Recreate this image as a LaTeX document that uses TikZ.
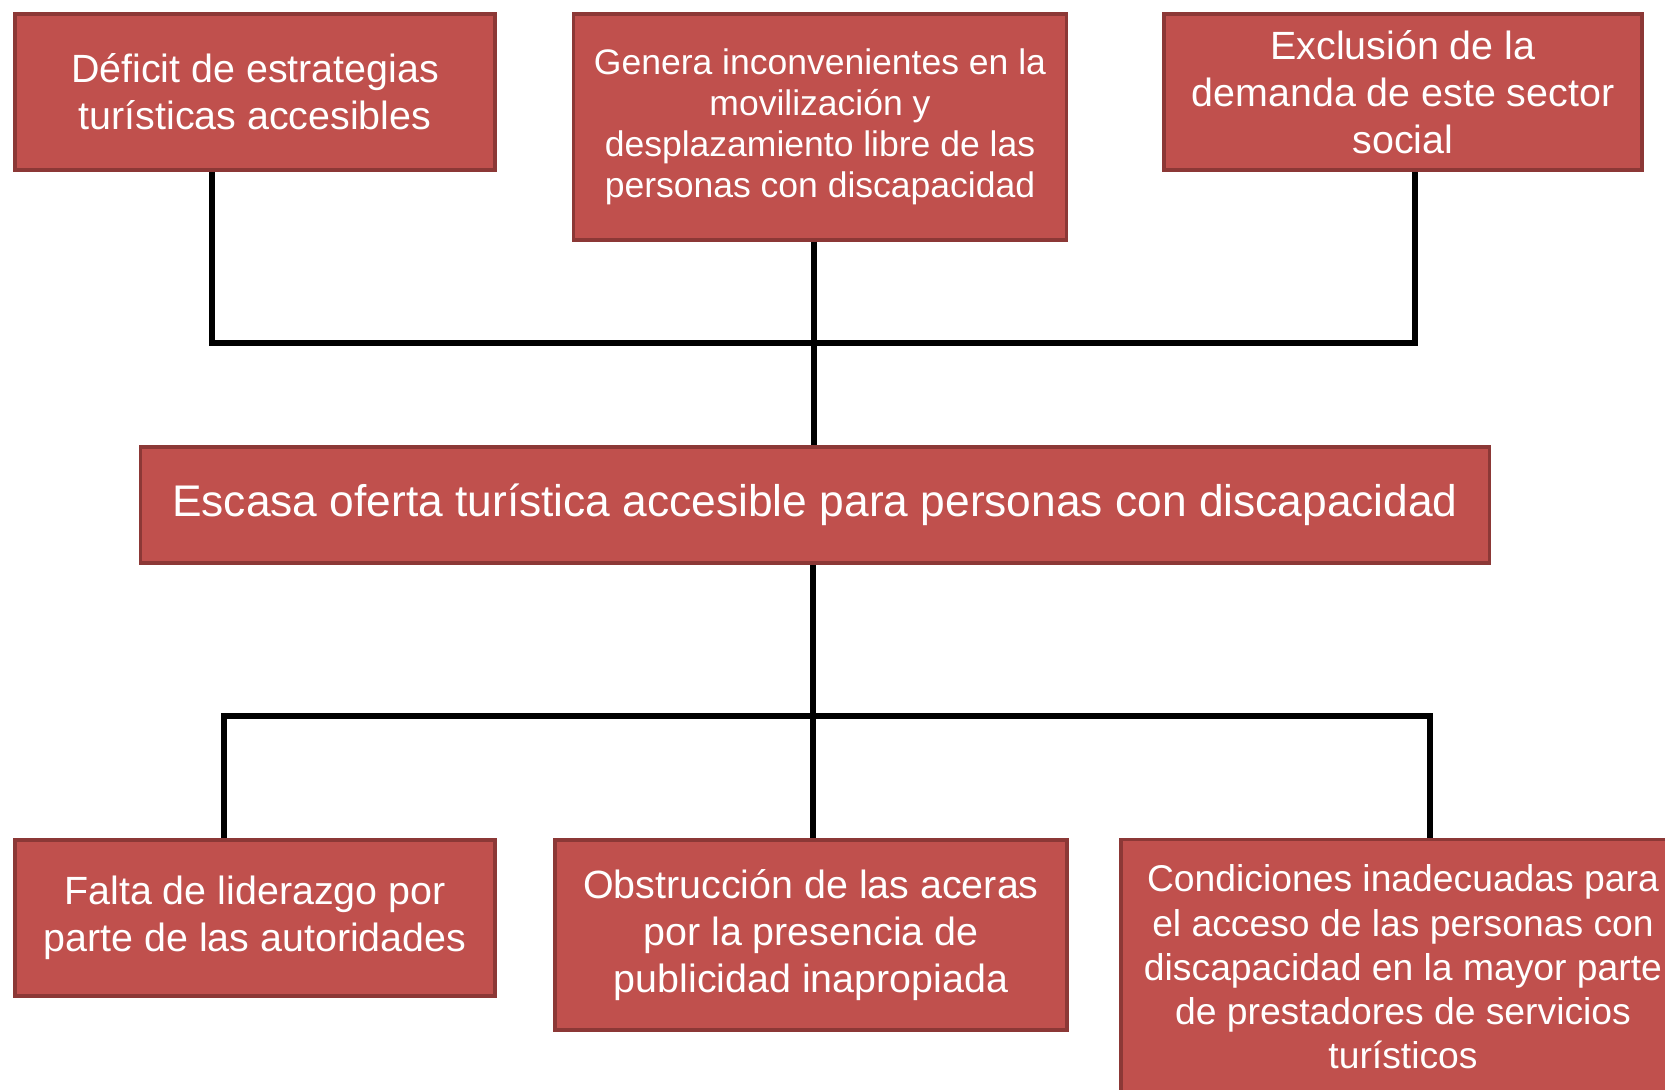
\documentclass[tikz,border=0pt]{standalone}
\usepackage{fontspec}
\setmainfont{Liberation Sans}
\definecolor{rojoCaja}{RGB}{192,80,77}
\definecolor{bordeCaja}{RGB}{140,56,54}
\begin{document}
\begin{tikzpicture}[x=0.01cm, y=-0.01cm,
    caja/.style={rectangle, fill=rojoCaja, draw=bordeCaja, line width=0.035cm,
        text=white, align=center, inner sep=0pt,
        font=\fontsize{11.2}{13.3}\selectfont},
    conector/.style={draw=black, line width=0.06cm}]
    \useasboundingbox (0,0) rectangle (1665,1090);

    % Efectos (fila de arriba)
    \node[caja, minimum width=4.80cm, minimum height=1.56cm] (efecto1) at (255,92)
        {D\'eficit de estrategias\\tur\'isticas accesibles};
    \node[caja, minimum width=4.93cm, minimum height=2.26cm,
        font=\fontsize{10.1}{11.7}\selectfont] (efecto2) at (820,127)
        {Genera inconvenientes en la\\movilizaci\'on y\\desplazamiento libre de las\\personas con discapacidad};
    \node[caja, minimum width=4.78cm, minimum height=1.56cm] (efecto3) at (1403,92)
        {Exclusi\'on de la\\demanda de este sector\\social};

    % Problema central
    \node[caja, minimum width=13.48cm, minimum height=1.16cm,
        font=\fontsize{12.6}{15}\selectfont] (problema) at (815,505)
        {Escasa oferta tur\'istica accesible para personas con discapacidad};

    % Causas (fila de abajo)
    \node[caja, minimum width=4.80cm, minimum height=1.56cm] (causa1) at (255,918)
        {Falta de liderazgo por\\parte de las autoridades};
    \node[caja, minimum width=5.12cm, minimum height=1.90cm] (causa2) at (811,935)
        {Obstrucci\'on de las aceras\\por la presencia de\\publicidad inapropiada};
    \node[caja, minimum width=5.64cm, minimum height=2.55cm,
        font=\fontsize{10.6}{12.6}\selectfont] (causa3) at (1403,967)
        {Condiciones inadecuadas para\\el acceso de las personas con\\discapacidad en la mayor parte\\de prestadores de servicios\\tur\'isticos};

    % Puntos de union
    \coordinate (nudoArriba) at (814,343);
    \coordinate (nudoAbajo) at (813,716);

    % Conectores de arriba
    \draw[conector] ([xshift=-0.43cm]efecto1.south) |- (nudoArriba) -| ([xshift=0.12cm]efecto3.south);
    \draw[conector] (efecto2.south -| nudoArriba) -- (nudoArriba) -- (problema.north -| nudoArriba);

    % Conectores de abajo
    \draw[conector] (problema.south -| nudoAbajo) -- (nudoAbajo) -- (causa2.north -| nudoAbajo);
    \draw[conector] ([xshift=-0.31cm]causa1.north) |- (nudoAbajo) -| ([xshift=0.27cm]causa3.north);
\end{tikzpicture}
\end{document}
